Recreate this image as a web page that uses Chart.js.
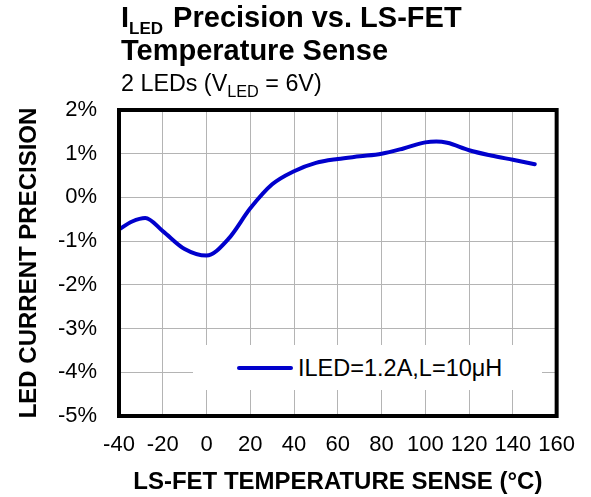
<!DOCTYPE html>
<html>
<head>
<meta charset="utf-8">
<script src="https://cdn.jsdelivr.net/npm/chart.js@4.4.1/dist/chart.umd.min.js"></script>
<style>
  body { margin: 0; background: #fff; font-family: "Liberation Sans", Arial, sans-serif; }
  #wrap { position: relative; width: 591px; height: 497px; overflow: hidden; }
  #chart { position: absolute; left: 0; top: 0; }
  .title { position: absolute; left: 121px; top: 1px; font-weight: bold; font-size: 29px; line-height: 32.7px; color: #000; white-space: nowrap; }
  .title sub { font-size: 17px; vertical-align: -6.5px; line-height: 0; margin-right: 2px; }
  .subtitle { position: absolute; left: 121px; top: 69.6px; font-size: 23.3px; line-height: 26px; color: #000; white-space: nowrap; }
  .subtitle sub { font-size: 16.3px; vertical-align: -5.5px; line-height: 0; }
  #legend { position: absolute; left: 193px; top: 345px; width: 349px; height: 45px; background: #fff; }
  #legend .swatch { position: absolute; left: 44px; top: 21px; width: 56px; height: 4px; border-radius: 2px; }
  #legend .label { position: absolute; left: 105px; top: 9px; font-size: 23.5px; line-height: 28px; white-space: nowrap; }
</style>
</head>
<body>
<div id="wrap">
  <canvas id="chart" width="591" height="497"></canvas>
  <div class="title">I<sub>LED</sub> Precision vs. LS-FET<br>Temperature Sense</div>
  <div class="subtitle">2 LEDs (V<sub>LED</sub> = 6V)</div>
  <div id="legend"></div>
</div>
<script>
// ── Data ──
const temperatures = [-40, -34, -28, -20, -10, 0, 10, 20, 30, 40, 50, 60, 70, 80, 90, 100, 105, 110, 120, 130, 140, 150];
const precision    = [-0.73, -0.55, -0.47, -0.77, -1.18, -1.33, -0.95, -0.25, 0.30, 0.60, 0.79, 0.88, 0.94, 1.00, 1.12, 1.26, 1.28, 1.25, 1.08, 0.96, 0.86, 0.76];
const seriesLabel  = 'ILED=1.2A,L=10μH';
const xTitle = 'LS-FET TEMPERATURE SENSE (°C)';
const yTitle = 'LED CURRENT PRECISION';

const lineColor = '#0000cc';
const gridColor = '#b4b4b4';
const font = 'Liberation Sans';

// frame round the plot area
const framePlugin = {
  id: 'frame',
  afterDraw(chart) {
    const { ctx, chartArea: a } = chart;
    ctx.save();
    ctx.strokeStyle = '#000';
    ctx.lineWidth = 4;
    ctx.strokeRect(a.left, a.top, a.right - a.left, a.bottom - a.top);
    ctx.restore();
  },
};

const chart = new Chart(document.getElementById('chart'), {
  type: 'line',
  data: {
    datasets: [{
      label: seriesLabel,
      data: temperatures.map((t, i) => ({ x: t, y: precision[i] })),
      borderColor: lineColor,
      borderWidth: 4,
      pointRadius: 0,
      fill: false,
      cubicInterpolationMode: 'monotone',
      borderCapStyle: 'round',
    }],
  },
  options: {
    responsive: false,
    animation: false,
    layout: { padding: { left: 0, top: 110, right: 30, bottom: 0 } },
    plugins: { legend: { display: false }, tooltip: { enabled: false } },
    scales: {
      x: {
        type: 'linear', min: -40, max: 160,
        ticks: { stepSize: 20, color: '#000', padding: 16, font: { family: font, size: 22 } },
        grid: { color: gridColor, lineWidth: 1, drawTicks: false },
        border: { display: false },
        title: { display: true, text: xTitle, color: '#000', padding: { top: 0, bottom: 0 }, font: { family: font, size: 24, weight: 'bold' } },
        afterFit(scale) { scale.height = 81; },
      },
      y: {
        min: -5, max: 2,
        ticks: { stepSize: 1, color: '#000', padding: 22, font: { family: font, size: 22 }, callback: (v) => v + '%' },
        grid: { color: gridColor, lineWidth: 1, drawTicks: false },
        border: { display: false },
        title: { display: true, text: yTitle, color: '#000', padding: { top: 14.5, bottom: 0 }, font: { family: font, size: 24, weight: 'bold' } },
        afterFit(scale) { scale.width = 119; },
      },
    },
  },
  plugins: [framePlugin],
});

// legend box inside the plot, built from the dataset
const ds = chart.data.datasets[0];
document.getElementById('legend').innerHTML =
  `<div class="swatch" style="background:${ds.borderColor}"></div><div class="label">${ds.label}</div>`;
</script>
</body>
</html>
